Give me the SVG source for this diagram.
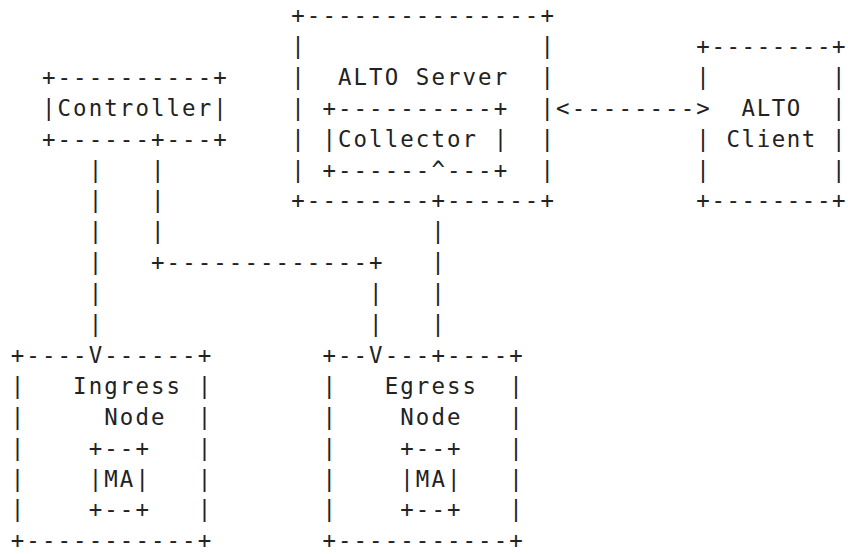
<svg xmlns="http://www.w3.org/2000/svg" width="848" height="554" viewBox="0 0 848 554" xml:space="preserve">
<style>
  text { font-family: "DejaVu Sans Mono", "Liberation Mono", monospace; font-size: 22.4px; letter-spacing: 2.093px; fill: #222; white-space: pre; }
  #alto-client text { letter-spacing: 1.6px; }
</style>
<rect width="848" height="554" fill="#fff"/>
<g id="controller">
  <text x="41.96" y="84.8">+----------+</text>
  <text x="41.96" y="115.7">|Controller|</text>
  <text x="41.96" y="146.6">+------+---+</text>
</g>
<g id="alto-server">
  <text x="291.24" y="23">+---------------+</text>
  <text x="291.24" y="53.9">|               |</text>
  <text x="291.24" y="84.8">|  ALTO Server  |</text>
  <g id="collector">
    <text x="291.24" y="115.7">| +----------+  |</text>
    <text x="291.24" y="146.6">| |Collector |  |</text>
    <text x="291.24" y="177.5">| +------^---+  |</text>
  </g>
  <text x="291.24" y="208.4">+--------+------+</text>
</g>
<g id="alto-client">
  <text x="696.32" y="53.9">+--------+</text>
  <text x="696.32" y="84.8">|        |</text>
  <text x="741.58" y="115.7">ALTO  |</text>
  <text x="696.32" y="146.6">| Client |</text>
  <text x="696.32" y="177.5">|        |</text>
  <text x="696.32" y="208.4">+--------+</text>
</g>
<g id="ingress-node">
  <text x="10.8" y="362.9">+----V------+</text>
  <text x="10.8" y="393.8">|   Ingress |</text>
  <text x="10.8" y="424.7">|     Node  |</text>
  <text x="10.8" y="455.6">|    +--+   |</text>
  <text x="10.8" y="486.5">|    |MA|   |</text>
  <text x="10.8" y="517.4">|    +--+   |</text>
  <text x="10.8" y="548.3">+-----------+</text>
</g>
<g id="egress-node">
  <text x="322.4" y="362.9">+--V---+----+</text>
  <text x="322.4" y="393.8">|   Egress  |</text>
  <text x="322.4" y="424.7">|    Node   |</text>
  <text x="322.4" y="455.6">|    +--+   |</text>
  <text x="322.4" y="486.5">|    |MA|   |</text>
  <text x="322.4" y="517.4">|    +--+   |</text>
  <text x="322.4" y="548.3">+-----------+</text>
</g>
<g id="connectors">
  <text x="556.1" y="115.7">&lt;--------&gt;</text>
  <text x="88.7" y="177.5">|   |</text>
  <text x="88.7" y="208.4">|   |</text>
  <text x="88.7" y="239.3">|   |                 |</text>
  <text x="88.7" y="270.2">|   +-------------+   |</text>
  <text x="88.7" y="301.1">|                 |   |</text>
  <text x="88.7" y="332.0">|                 |   |</text>
</g>
</svg>
